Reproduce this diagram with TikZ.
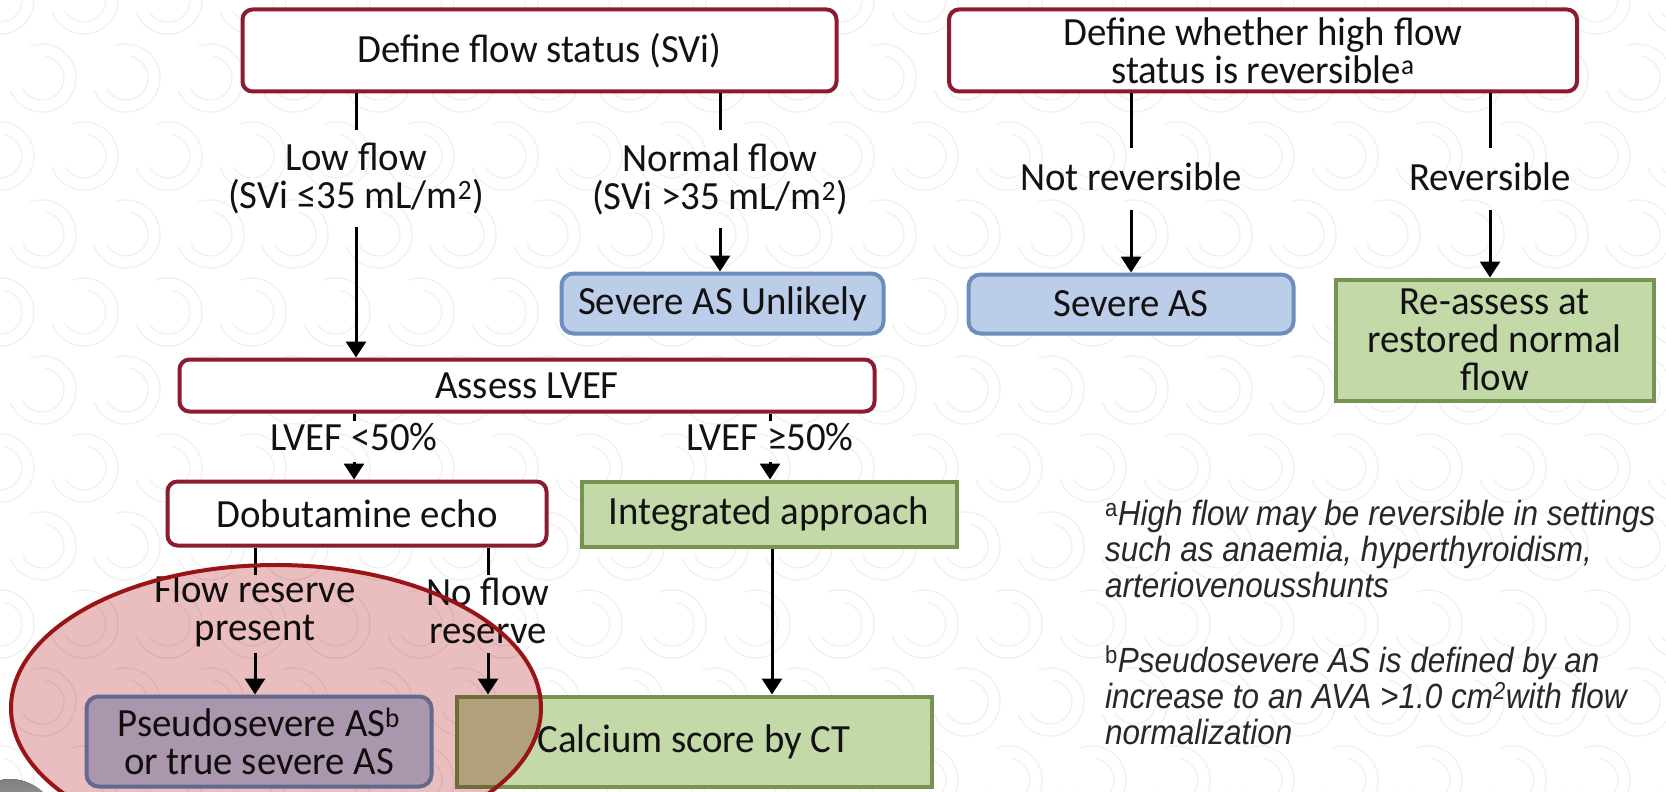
\documentclass[tikz,border=0pt]{standalone}
\usepackage{fontspec}
\setmainfont{Carlito}[FakeStretch=0.97]
\newfontfamily\notefont{Liberation Sans}[FakeStretch=0.9]
\usetikzlibrary{arrows.meta}

\definecolor{boxred}{RGB}{139,28,48}
\definecolor{bluefill}{RGB}{187,205,232}
\definecolor{blueline}{RGB}{108,142,191}
\definecolor{greenfill}{RGB}{195,217,168}
\definecolor{greenline}{RGB}{119,147,82}
\definecolor{ringred}{RGB}{152,20,22}
\definecolor{ringfill}{RGB}{234,189,191}
\definecolor{inkdark}{RGB}{18,18,18}
\definecolor{notegray}{RGB}{40,40,40}
\definecolor{swirl}{RGB}{240,238,238}
\definecolor{shade}{RGB}{222,222,222}

\begin{document}
\begin{tikzpicture}[x=1pt,y=-1pt,
  boxfont/.style={font=\fontsize{40}{38}\selectfont, text=inkdark},
  redbox/.style={boxfont, draw=boxred, fill=white, line width=4pt,
    rounded corners=10pt, inner sep=0pt, align=center},
  bluebox/.style={boxfont, draw=blueline, fill=bluefill, line width=4pt,
    rounded corners=12pt, inner sep=0pt, align=center},
  greenbox/.style={boxfont, draw=greenline, fill=greenfill, line width=4pt,
    inner sep=0pt, align=center},
  lbl/.style={boxfont, align=center, inner sep=0pt},
  note/.style={font=\notefont\itshape\fontsize{35}{36}\selectfont,
    text=notegray, align=left, inner sep=0pt},
  link/.style={line width=3pt, draw=black},
  arr/.style={link, -{Triangle[width=20pt,length=16pt]}},
  bgarc/.style={draw=swirl, line width=1.1pt}
]
\useasboundingbox (0,0) rectangle (1666,792);
\clip (0,0) rectangle (1666,792);
\fill[white] (0,0) rectangle (1666,792);

% faint curl pattern of the backdrop
\foreach \j in {0,...,10}{
  \foreach \i in {0,...,20}{
    \pgfmathsetmacro\cx{\i*84 + mod(\j,2)*42}
    \pgfmathsetmacro\cy{\j*78}
    \draw[bgarc] (\cx,\cy) ++(200:34pt) arc[start angle=200, end angle=470, radius=34pt];
    \draw[bgarc] (\cx,\cy) ++(210:22pt) arc[start angle=210, end angle=440, radius=22pt];
  }
}

% grey patch in the lower left corner
\fill[shade] (10,845) ellipse [x radius=55pt, y radius=66pt];

% ---------- boxes ----------
\node[redbox, minimum width=594pt, minimum height=82pt] (flow) at (539.5,50.5)
  {Define flow status (SVi)};
\node[redbox, minimum width=628pt, minimum height=82pt] (high) at (1263,50.5)
  {Define whether high flow\\status is reversible\textsuperscript{a}};

\node[bluebox, minimum width=322pt, minimum height=60pt] (unlikely) at (722.5,303.5)
  {Severe AS Unlikely};
\node[bluebox, minimum width=325pt, minimum height=59pt] (severe) at (1131,304)
  {Severe AS};
\node[greenbox, minimum width=318pt, minimum height=121pt] (reassess) at (1494.5,340)
  {Re-assess at\\restored normal\\flow};

\node[redbox, minimum width=695pt, minimum height=52pt] (lvef) at (527,385.5)
  {Assess LVEF};

\node[redbox, minimum width=379pt, minimum height=64pt] (dob) at (357,513.5)
  {Dobutamine echo};
\node[greenbox, minimum width=375pt, minimum height=65pt] (integ) at (769,514)
  {Integrated approach};

\node[bluebox, minimum width=345pt, minimum height=90pt] (pseudo) at (259,741.5)
  {Pseudosevere AS\textsuperscript{b}\\or true severe AS};
\node[greenbox, minimum width=475pt, minimum height=90pt] (calc) at (694,741.5)
  {Calcium score by CT};

% ---------- branch labels ----------
\node[lbl] (lowlbl) at (356,179) {Low flow\\(SVi ≤35 mL/m\textsuperscript{2})};
\node[lbl] (normlbl) at (720,179) {Normal flow\\(SVi >35 mL/m\textsuperscript{2})};
\node[lbl] (notrevlbl) at (1131,177) {Not reversible};
\node[lbl] (revlbl) at (1490,177) {Reversible};
\node[lbl] (ltlbl) at (354,437) {LVEF <50\%};
\node[lbl] (gelbl) at (770,437) {LVEF ≥50\%};
\node[lbl] (reslbl) at (255,611) {Flow reserve\\present};
\node[lbl] (noreslbl) at (488,611) {No flow\\reserve};

% ends of the connector pieces around the labels
\coordinate (lowtop) at (356,130);   \coordinate (lowbot) at (356,227);
\coordinate (normtop) at (720,130);  \coordinate (normbot) at (720,228);
\coordinate (notrevtop) at (1131,148); \coordinate (notrevbot) at (1131,210);
\coordinate (revtop) at (1490,148);  \coordinate (revbot) at (1490,210);
\coordinate (lttop) at (354,421);    \coordinate (ltbot) at (354,462);
\coordinate (getop) at (770,421);    \coordinate (gebot) at (770,462);
\coordinate (restop) at (255,575);   \coordinate (resbot) at (255,653);
\coordinate (norestop) at (488,575); \coordinate (noresbot) at (488,653);

% ---------- connectors ----------
\draw[link] (flow.south -| lowtop) -- (lowtop);
\draw[arr] (lowbot) -- (lvef.north -| lowbot);
\draw[link] (flow.south -| normtop) -- (normtop);
\draw[arr] (normbot) -- (unlikely.north -| normbot);

\draw[link] (high.south -| notrevtop) -- (notrevtop);
\draw[arr] (notrevbot) -- (severe.north -| notrevbot);
\draw[link] (high.south -| revtop) -- (revtop);
\draw[arr] (revbot) -- (reassess.north -| revbot);

\draw[link] (lvef.south -| lttop) -- (lttop);
\draw[arr] (ltbot) -- (dob.north -| ltbot);
\draw[link] (lvef.south -| getop) -- (getop);
\draw[arr] (gebot) -- (integ.north -| gebot);

\draw[link] (dob.south -| restop) -- (restop);
\draw[arr] (resbot) -- (pseudo.north -| resbot);
\draw[link] (dob.south -| norestop) -- (norestop);
\draw[arr] (noresbot) -- (calc.north -| noresbot);

\draw[arr] (integ.south -| 772,0) -- (calc.north -| 772,0);

% ---------- footnotes ----------
\node[note, anchor=west] (notea) at (1105,549)
  {\textsuperscript{\upshape a}High flow may be reversible in settings\\
   such as anaemia, hyperthyroidism,\\
   arteriovenousshunts};
\node[note, anchor=west] (noteb) at (1105,695)
  {\textsuperscript{\upshape b}Pseudosevere AS is defined by an\\
   increase to an AVA >1.0 cm\textsuperscript{2}with flow\\
   normalization};

% ---------- highlight ring over the lower left branch ----------
\begin{scope}[blend mode=multiply]
  \fill[ringfill] (276,708) ellipse [x radius=265pt, y radius=143pt];
\end{scope}
\draw[ringred, line width=4pt] (276,708) ellipse [x radius=265pt, y radius=143pt];
\end{tikzpicture}
\end{document}
